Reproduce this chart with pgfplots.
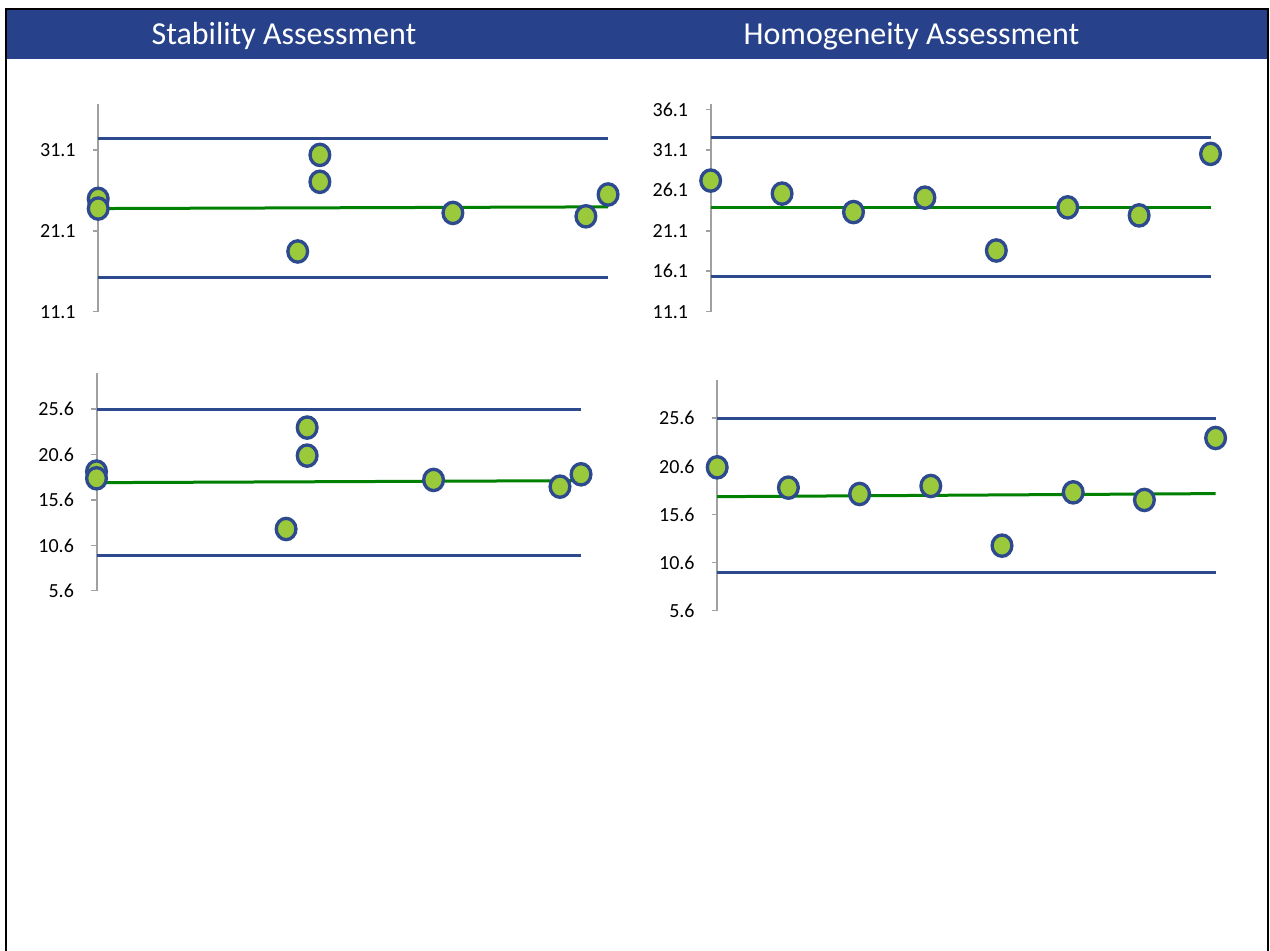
\documentclass[border=0pt]{standalone}
\usepackage{pgfplots}
\pgfplotsset{compat=1.18}
\usepackage{fontspec}
\setmainfont{Carlito}
\definecolor{hdr}{HTML}{27428A}
\definecolor{lblue}{HTML}{2E4A8E}
\definecolor{mfill}{HTML}{9BC93C}
\definecolor{lgreen}{HTML}{008000}
\definecolor{agray}{HTML}{A0A0A0}
\pgfplotsset{
  panel/.style={
    scale only axis, clip=false,
    axis x line=none, axis y line*=left,
    y axis line style={agray, line width=1.5pt},
    ytick style={agray, line width=1.2pt},
    tick align=outside, major tick length=3.75pt,
    yticklabel style={inner sep=0pt, xshift=-13pt},
    yticklabel={\fontsize{15}{18}\selectfont\pgfmathprintnumber[fixed,precision=1,fixed zerofill,assume math mode=true]{\tick}},
  },
  lim/.style={lblue, line width=2.25pt, no marks},
  ctr/.style={lgreen, line width=2.25pt, no marks},
  pts/.style={only marks, mark=*, mark size=7.4pt,
    mark options={fill=mfill, draw=lblue, line width=2.5pt, yscale=1.08}},
}
\begin{document}
\begin{tikzpicture}[x=0.75pt,y=0.75pt]
\useasboundingbox (0,0) rectangle (1270,950);
\fill[white] (0,0) rectangle (1270,950);
\fill[hdr] (7,891.3) rectangle (1267,940);
\draw[black, line width=1.6pt] (6,-10) -- (6,941) -- (1268,941) -- (1268,-10);
\node[anchor=base, text=white, font=\fontsize{24}{28}\selectfont] at (284,905) {Stability Assessment};
\node[anchor=base, text=white, font=\fontsize{24}{28}\selectfont] at (911.5,905) {Homogeneity Assessment};

% Top left: stability
\begin{axis}[panel, at={(73.65pt,478.725pt)}, anchor=origin,
  width=382.4pt, height=155.8pt,
  xmin=0, xmax=23, ymin=11.1, ymax=36.8,
  ytick={11.1,21.1,31.1}]
\addplot[lim] coordinates {(0,32.56) (23,32.56)};
\addplot[lim] coordinates {(0,15.37) (23,15.37)};
\addplot[pts] coordinates {(0,25.06) (0,23.86) (9,18.55) (10,30.5) (10,27.17) (16,23.32) (22,22.9) (23,25.6)};
\addplot[ctr] coordinates {(0,23.86) (23,24.07)};
\end{axis}

% Top right: homogeneity
\begin{axis}[panel, at={(533.0pt,478.725pt)}, anchor=origin,
  width=374.9pt, height=156pt,
  xmin=1, xmax=8, ymin=11.1, ymax=36.8,
  ytick={11.1,16.1,21.1,26.1,31.1,36.1}]
\addplot[lim] coordinates {(1,32.63) (8,32.63)};
\addplot[lim] coordinates {(1,15.4) (8,15.4)};
\addplot[pts] coordinates {(1,27.3) (2,25.69) (3,23.41) (4,25.19) (5,18.66) (6,23.99) (7,23.0) (8,30.6)};
\addplot[ctr] coordinates {(1,24.03) (8,24.03)};
\end{axis}

% Bottom left: stability
\begin{axis}[panel, at={(72.375pt,269.475pt)}, anchor=origin,
  width=363.4pt, height=163.3pt,
  xmin=0, xmax=23, ymin=5.6, ymax=29.6,
  ytick={5.6,10.6,15.6,20.6,25.6}]
\addplot[lim] coordinates {(0,25.6) (23,25.6)};
\addplot[lim] coordinates {(0,9.53) (23,9.53)};
\addplot[pts] coordinates {(0,18.73) (0,17.99) (9,12.4) (10,23.58) (10,20.49) (16,17.81) (22,17.07) (23,18.43)};
\addplot[ctr] coordinates {(0,17.51) (23,17.73)};
\end{axis}

% Bottom right: homogeneity
\begin{axis}[panel, at={(537.9pt,254.475pt)}, anchor=origin,
  width=373.8pt, height=173.2pt,
  xmin=1, xmax=8, ymin=5.6, ymax=29.6,
  ytick={5.6,10.6,15.6,20.6,25.6}]
\addplot[lim] coordinates {(1,25.6) (8,25.6)};
\addplot[lim] coordinates {(1,9.55) (8,9.55)};
\addplot[pts] coordinates {(1,20.5) (2,18.39) (3,17.73) (4,18.56) (5,12.36) (6,17.9) (7,17.11) (8,23.55)};
\addplot[ctr] coordinates {(1,17.45) (8,17.77)};
\end{axis}
\end{tikzpicture}
\end{document}
